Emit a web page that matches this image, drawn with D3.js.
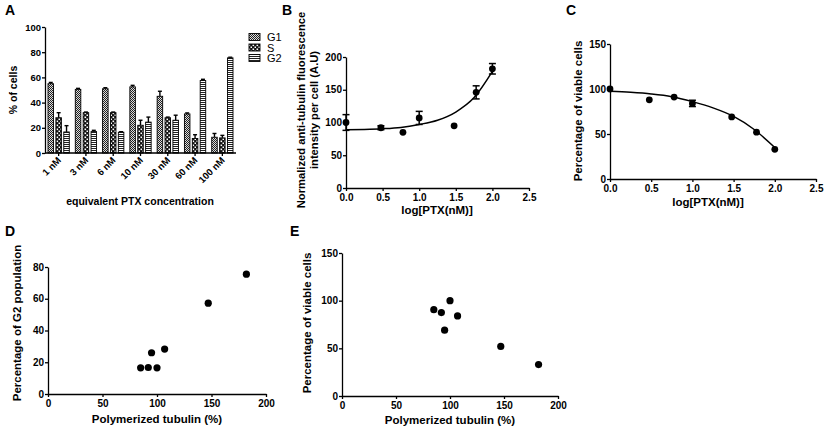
<!DOCTYPE html>
<html><head><meta charset="utf-8">
<script src="https://cdn.jsdelivr.net/npm/d3@7"></script>
<style>
body{margin:0;background:#fff}
svg{display:block}
text{font-family:"Liberation Sans",Arial,Helvetica,sans-serif}
</style>
</head><body>
<svg id="c" width="824" height="435"></svg>
<script>
// ---------- DATA ----------
const concentrations = ["1 nM","3 nM","6 nM","10 nM","30 nM","60 nM","100 nM"];
const phases = ["G1","S","G2"];
const g1Values = [55, 50.5, 51, 52.5, 45, 31, 12.5];
const g1Err    = [1, 0.8, 0.8, 1.2, 4, 0.8, 3];
const sValues  = [28, 32, 32, 22, 28, 11.5, 12];
const sErr     = [4, 0.5, 0.5, 4, 0.5, 3, 2];
const g2Values = [16.7, 17, 16.5, 24.5, 26, 57.5, 75.5];
const g2Err    = [5, 1, 0.4, 4, 4, 1, 0.5];
const yTicksA  = [0, 20, 40, 60, 80, 100];

const logPTX        = [0, 0.477, 0.778, 1, 1.477, 1.778, 2];
const tubulinValues = [100, 92, 85, 107, 95, 146, 182];
const tubulinErr    = [12, 3, 0, 10, 0, 10, 8];
const tubulinCurveX = [0, 0.25, 0.5, 0.75, 1, 1.25, 1.5, 1.75, 2];
const tubulinCurveY = [89, 89.5, 90.5, 92.5, 97, 103.5, 116, 138, 178];

const viableValues  = [100, 88, 91, 84, 69, 52, 33];
const viableErr     = [0, 0, 0, 3.5, 0, 0, 0];
const viableCurveX  = [0, 0.25, 0.5, 0.75, 1, 1.25, 1.5, 1.75, 2];
const viableCurveY  = [97.5, 96.3, 94.5, 91.5, 86, 79, 69.5, 55, 35];

const logTicks = [0, 0.5, 1, 1.5, 2, 2.5];

const polyTubulinD = [85, 92, 95, 100, 107, 147, 182];
const g2PopD       = [16.5, 16.7, 26, 16.5, 28.3, 57.2, 75.5];
const polyTubulinE = [85, 92, 95, 100, 107, 147, 182];
const viableE      = [90.5, 87.5, 69, 100, 84, 52, 33];

// ---------- SETUP ----------
const TICK_FS = 10, TITLE_FS = 11.5;
const svg = d3.select("#c");
const defs = svg.append("defs");
// G1: fine crosshatch
const p1 = defs.append("pattern").attr("id","pG1").attr("patternUnits","userSpaceOnUse").attr("width",2).attr("height",2);
p1.append("rect").attr("width",2).attr("height",2).attr("fill","#ddd");
p1.append("rect").attr("width",1).attr("height",1).attr("fill","#222");
p1.append("rect").attr("x",1).attr("y",1).attr("width",1).attr("height",1).attr("fill","#222");
// S: black with white dots
const p2 = defs.append("pattern").attr("id","pS").attr("patternUnits","userSpaceOnUse").attr("width",4).attr("height",4);
p2.append("rect").attr("width",4).attr("height",4).attr("fill","#111");
p2.append("rect").attr("x",0.5).attr("y",0.5).attr("width",1.6).attr("height",1.6).attr("fill","#fff");
p2.append("rect").attr("x",2.5).attr("y",2.5).attr("width",1.6).attr("height",1.6).attr("fill","#fff");
// G2: horizontal stripes
const p3 = defs.append("pattern").attr("id","pG2").attr("patternUnits","userSpaceOnUse").attr("width",2).attr("height",2);
p3.append("rect").attr("width",2).attr("height",2).attr("fill","#fff");
p3.append("rect").attr("width",2).attr("height",1).attr("fill","#222");
const fills = {G1:"url(#pG1)", S:"url(#pS)", G2:"url(#pG2)"};

function styleAxis(g){
  g.selectAll("path,line").attr("stroke","#000").attr("stroke-width",1.3);
  g.selectAll("text").attr("font-size",TICK_FS).attr("font-weight","bold").attr("fill","#000")
   .attr("font-family",'"Liberation Sans",Arial,sans-serif');
}
function panelLabel(x,y,t){
  svg.append("text").attr("x",x).attr("y",y).attr("font-size",14).attr("font-weight","bold").text(t);
}
function title(x,y,t,rot,size){
  const el = svg.append("text").attr("text-anchor","middle").attr("font-size",size||TITLE_FS)
     .attr("font-weight","bold").attr("fill","#000");
  if(rot){ el.attr("transform",`translate(${x},${y}) rotate(-90)`); }
  else { el.attr("x",x).attr("y",y); }
  el.text(t);
  return el;
}

// ---------- PANEL A ----------
panelLabel(5,15,"A");
const xA = d3.scaleBand().domain(concentrations).range([45,236]).paddingInner(0.22).paddingOuter(0.11);
const xA1 = d3.scaleBand().domain(phases).range([0,xA.bandwidth()]).paddingInner(0.3);
const yA = d3.scaleLinear().domain([0,100]).range([153,27]);
const seriesA = {G1:[g1Values,g1Err], S:[sValues,sErr], G2:[g2Values,g2Err]};
const gA = svg.append("g");
phases.forEach(ph=>{
  const [vals, errs] = seriesA[ph];
  concentrations.forEach((c,i)=>{
    const x = xA(c)+xA1(ph), w = xA1.bandwidth();
    const cx = x + w/2;
    gA.append("line").attr("x1",cx).attr("x2",cx).attr("y1",yA(vals[i])).attr("y2",yA(vals[i]+errs[i]))
      .attr("stroke","#000").attr("stroke-width",1.4);
    gA.append("line").attr("x1",cx-2).attr("x2",cx+2).attr("y1",yA(vals[i]+errs[i])).attr("y2",yA(vals[i]+errs[i]))
      .attr("stroke","#000").attr("stroke-width",1.4);
    gA.append("rect").attr("x",x).attr("y",yA(vals[i])).attr("width",w).attr("height",yA(0)-yA(vals[i]))
      .attr("fill",fills[ph]).attr("stroke","#000").attr("stroke-width",0.9);
  });
});
const axAy = svg.append("g").attr("transform","translate(45,0)")
  .call(d3.axisLeft(yA).tickValues(yTicksA).tickSize(3).tickSizeOuter(0).tickPadding(1));
styleAxis(axAy);
axAy.selectAll("text").attr("font-size",9.5);
const axAx = svg.append("g").attr("transform","translate(0,153)")
  .call(d3.axisBottom(xA).tickSize(3).tickSizeOuter(0).tickFormat(""));
axAx.select(".domain").attr("d","M45,0H236");
styleAxis(axAx);
concentrations.forEach(c=>{
  svg.append("text").attr("text-anchor","end").attr("font-size",9.5).attr("font-weight","bold")
    .attr("transform",`translate(${xA(c)+xA.bandwidth()/2+3},${161}) rotate(-45)`).text(c);
});
title(17,90,"% of cells",true,10.5);
title(140,205,"equivalent PTX concentration",false,10.5);
// legend
phases.forEach((ph,i)=>{
  const y = 37 + i*10.5;
  svg.append("rect").attr("x",249).attr("y",y-3.5).attr("width",11).attr("height",7)
    .attr("fill",fills[ph]).attr("stroke","#000").attr("stroke-width",0.9);
  svg.append("text").attr("x",267).attr("y",y+4).attr("font-size",11).text(ph);
});

// ---------- PANEL B ----------
panelLabel(282,15,"B");
const xB = d3.scaleLinear().domain([0,2.5]).range([346,529]);
const yB = d3.scaleLinear().domain([0,200]).range([188,57]);
const axBy = svg.append("g").attr("transform","translate(346,0)")
  .call(d3.axisLeft(yB).ticks(4).tickSize(3).tickSizeOuter(0).tickPadding(1));
styleAxis(axBy);
const axBx = svg.append("g").attr("transform","translate(0,188)")
  .call(d3.axisBottom(xB).tickValues(logTicks).tickFormat(d3.format(".1f")).tickSize(3).tickSizeOuter(0));
styleAxis(axBx);
svg.append("path").datum(tubulinCurveX.map((x,i)=>[x,tubulinCurveY[i]]))
  .attr("d",d3.line().x(d=>xB(d[0])).y(d=>yB(d[1])).curve(d3.curveMonotoneX))
  .attr("fill","none").attr("stroke","#000").attr("stroke-width",1.5);
function errPoints(xs,ys,es,xs_,ys_){
  xs.forEach((x,i)=>{
    if(es[i]>0){
      const cx=xs_(x);
      svg.append("line").attr("x1",cx).attr("x2",cx).attr("y1",ys_(ys[i]-es[i])).attr("y2",ys_(ys[i]+es[i]))
        .attr("stroke","#000").attr("stroke-width",1.5);
      [ys[i]-es[i], ys[i]+es[i]].forEach(v=>{
        svg.append("line").attr("x1",cx-3.5).attr("x2",cx+3.5).attr("y1",ys_(v)).attr("y2",ys_(v))
          .attr("stroke","#000").attr("stroke-width",1.5);
      });
    }
    svg.append("circle").attr("cx",xs_(x)).attr("cy",ys_(ys[i])).attr("r",3.4).attr("fill","#000");
  });
}
errPoints(logPTX,tubulinValues,tubulinErr,xB,yB);
const tB = svg.append("text").attr("text-anchor","middle").attr("font-size",11.2).attr("font-weight","bold")
  .attr("transform","translate(305,110) rotate(-90)");
tB.append("tspan").attr("x",0).attr("dy",0).text("Normalized anti-tubulin fluorescence");
tB.append("tspan").attr("x",0).attr("dy",12.5).text("intensity per cell  (A.U)");
title(437,214,"log[PTX(nM)]");

// ---------- PANEL C ----------
panelLabel(566,15,"C");
const xC = d3.scaleLinear().domain([0,2.5]).range([610,816]);
const yC = d3.scaleLinear().domain([0,150]).range([179,44]);
const axCy = svg.append("g").attr("transform","translate(610,0)")
  .call(d3.axisLeft(yC).tickValues([0,50,100,150]).tickSize(3).tickSizeOuter(0).tickPadding(1));
styleAxis(axCy);
const axCx = svg.append("g").attr("transform","translate(0,179)")
  .call(d3.axisBottom(xC).tickValues(logTicks).tickFormat(d3.format(".1f")).tickSize(3).tickSizeOuter(0));
styleAxis(axCx);
svg.append("path").datum(viableCurveX.map((x,i)=>[x,viableCurveY[i]]))
  .attr("d",d3.line().x(d=>xC(d[0])).y(d=>yC(d[1])).curve(d3.curveMonotoneX))
  .attr("fill","none").attr("stroke","#000").attr("stroke-width",1.5);
errPoints(logPTX,viableValues,viableErr,xC,yC);
title(582,111,"Percentage of viable cells",true);
title(708,206,"log[PTX(nM)]");

// ---------- PANEL D ----------
panelLabel(5,236,"D");
const xD = d3.scaleLinear().domain([0,200]).range([48,266]);
const yD = d3.scaleLinear().domain([0,80]).range([394,267]);
const axDy = svg.append("g").attr("transform","translate(48,0)")
  .call(d3.axisLeft(yD).tickValues([0,20,40,60,80]).tickSize(3).tickSizeOuter(0).tickPadding(1));
styleAxis(axDy);
const axDx = svg.append("g").attr("transform","translate(0,394)")
  .call(d3.axisBottom(xD).tickValues([0,50,100,150,200]).tickSize(3).tickSizeOuter(0));
styleAxis(axDx);
polyTubulinD.forEach((x,i)=>{
  svg.append("circle").attr("cx",xD(x)).attr("cy",yD(g2PopD[i])).attr("r",3.6).attr("fill","#000");
});
title(21,323,"Percentage of G2 population",true);
title(157,423,"Polymerized tubulin (%)");

// ---------- PANEL E ----------
panelLabel(290,236,"E");
const xE = d3.scaleLinear().domain([0,200]).range([342,558]);
const yE = d3.scaleLinear().domain([0,150]).range([396,253]);
const axEy = svg.append("g").attr("transform","translate(342,0)")
  .call(d3.axisLeft(yE).tickValues([0,50,100,150]).tickSize(3).tickSizeOuter(0).tickPadding(1));
styleAxis(axEy);
const axEx = svg.append("g").attr("transform","translate(0,396)")
  .call(d3.axisBottom(xE).tickValues([0,50,100,150,200]).tickSize(3).tickSizeOuter(0));
styleAxis(axEx);
polyTubulinE.forEach((x,i)=>{
  svg.append("circle").attr("cx",xE(x)).attr("cy",yE(viableE[i])).attr("r",3.6).attr("fill","#000");
});
title(311,323,"Percentage of viable cells",true);
title(450,424,"Polymerized tubulin (%)");
</script>
</body></html>
